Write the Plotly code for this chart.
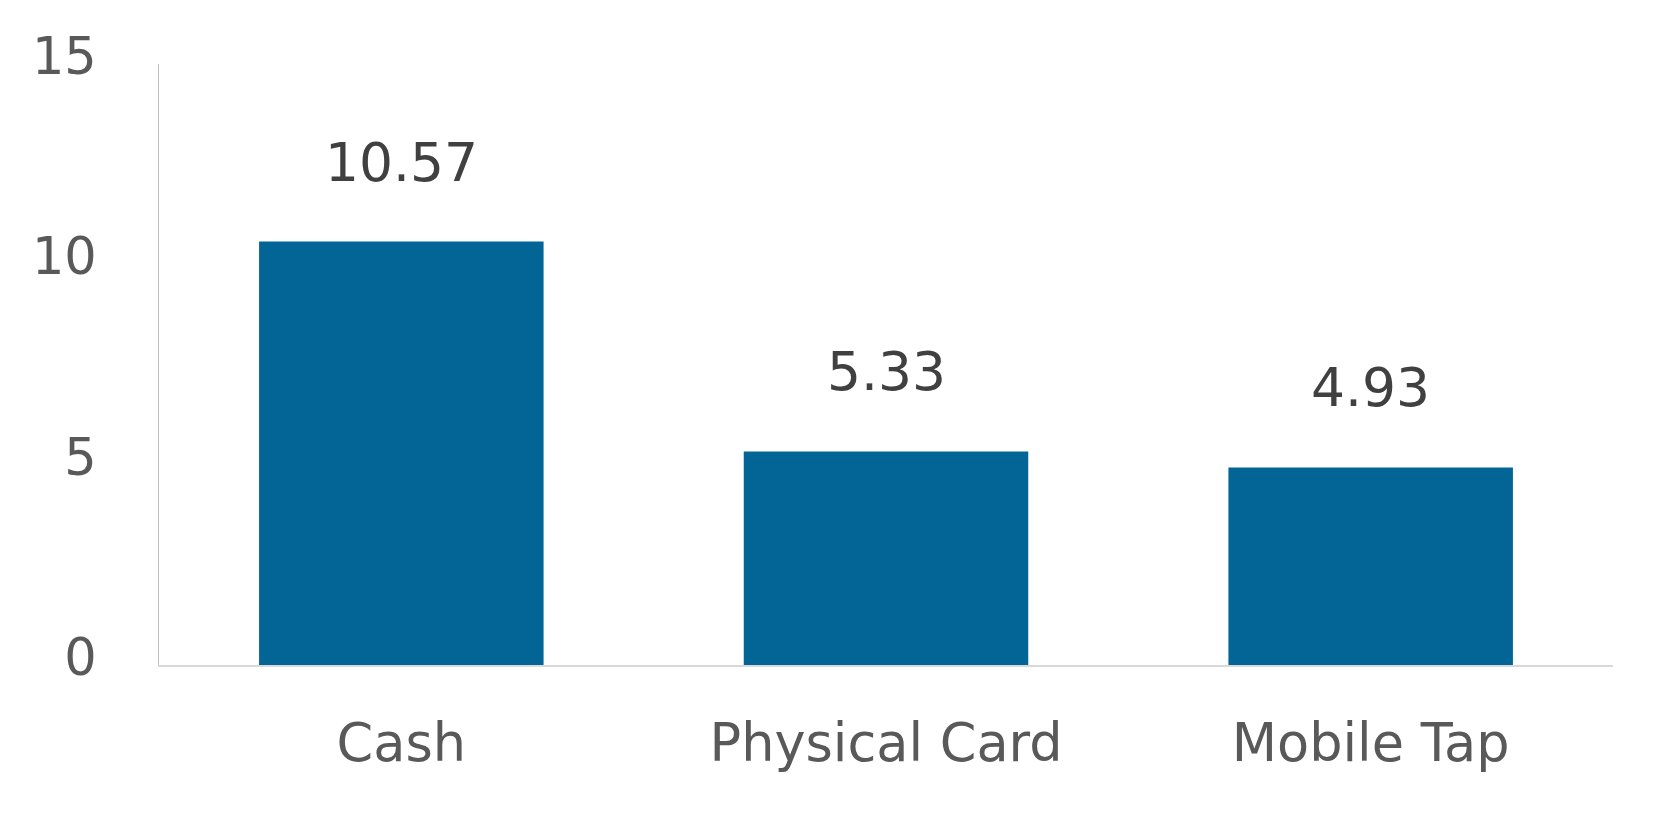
import plotly.graph_objects as go

categories = ["Cash", "Physical Card", "Mobile Tap"]
values = [10.57, 5.33, 4.93]
value_labels = ["10.57", "5.33", "4.93"]
y_ticks = [0, 5, 10, 15]

BAR_COLOR = "#036496"
FONT = "DejaVu Sans"

fig = go.Figure()
fig.add_trace(go.Bar(
    x=categories, y=values,
    marker=dict(color=BAR_COLOR, line=dict(width=0)),
    hoverinfo="skip",
))

for c, v, t in zip(categories, values, value_labels):
    fig.add_annotation(
        x=c, y=v, text=t, showarrow=False,
        yanchor="bottom", yshift=46,
        font=dict(family=FONT, size=53.5, color="#404040"),
    )

fig.update_layout(
    width=1664, height=816,
    margin=dict(l=151, r=59, t=56, b=159),
    paper_bgcolor="white", plot_bgcolor="white",
    bargap=0.413,
    showlegend=False,
    font=dict(family=FONT, color="#595959"),
)
fig.update_xaxes(
    showgrid=False, zeroline=False,
    showline=True, linecolor="#D9D9D9", linewidth=2,
    ticks="", ticklabelstandoff=31,
    tickfont=dict(family=FONT, size=52.5, color="#595959"),
)
fig.update_yaxes(
    range=[0, 15], tickvals=y_ticks, ticktext=[str(t) for t in y_ticks],
    showgrid=False, zeroline=False,
    showline=True, linecolor="#BFBFBF", linewidth=1,
    ticks="", ticklabelstandoff=51, ticklabelshift=-8,
    tickfont=dict(family=FONT, size=51, color="#595959"),
)

fig.write_html("out.html")
